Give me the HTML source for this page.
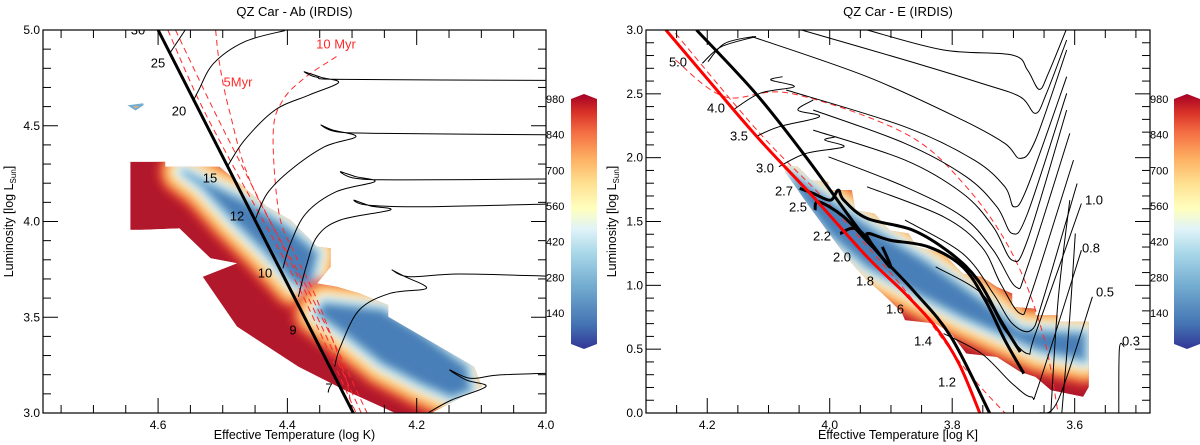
<!DOCTYPE html>
<html><head><meta charset="utf-8">
<style>
html,body{margin:0;padding:0;background:#fff;}
svg{display:block;font-family:"Liberation Sans","DejaVu Sans",sans-serif;}
</style></head>
<body>
<svg id="fig" width="1200" height="445" viewBox="0 0 1200 445" xmlns="http://www.w3.org/2000/svg">
<defs>
<linearGradient id="cbar" x1="0" y1="1" x2="0" y2="0">
<stop offset="0" stop-color="#313695"/><stop offset="0.1" stop-color="#4575b4"/><stop offset="0.25" stop-color="#74add1"/><stop offset="0.38" stop-color="#abd9e9"/><stop offset="0.47" stop-color="#e0f3f8"/><stop offset="0.55" stop-color="#ffffbf"/><stop offset="0.65" stop-color="#fee090"/><stop offset="0.75" stop-color="#fdae61"/><stop offset="0.85" stop-color="#f46d43"/><stop offset="0.93" stop-color="#d73027"/><stop offset="1" stop-color="#a50026"/>
</linearGradient>
<filter id="blur" x="-20%" y="-20%" width="140%" height="140%"><feGaussianBlur stdDeviation="4"/></filter>
<clipPath id="clipL"><rect x="43" y="30" width="503" height="383"/></clipPath>
<clipPath id="clipR"><rect x="646" y="30" width="504" height="383"/></clipPath>
</defs>
</svg>
<script>
// ---------- LEFT PANEL DATA (log T, log L) ----------
const leftZams = [[4.60,5.0],[4.298,3.0]];
const leftTracks = [
 [[4.582,4.878],[4.558,5.0]],
 [[4.546,4.626],[4.537,4.687],[4.514,4.826],[4.466,4.939],[4.404,4.997]],
 [[4.493,4.286],[4.466,4.426],[4.419,4.582],[4.366,4.661],[4.321,4.725],[4.348,4.753],[4.374,4.782],[4.354,4.753],[4.312,4.742],[4.001,4.737]],
 [[4.450,4.008],[4.431,4.147],[4.395,4.269],[4.342,4.391],[4.294,4.443],[4.330,4.478],[4.348,4.504],[4.324,4.469],[4.253,4.460],[4.001,4.453]],
 [[4.407,3.755],[4.395,3.886],[4.371,4.043],[4.324,4.156],[4.265,4.208],[4.294,4.234],[4.318,4.260],[4.294,4.225],[4.223,4.217],[4.001,4.222]],
 [[4.383,3.607],[4.371,3.764],[4.354,3.921],[4.318,4.008],[4.241,4.060],[4.271,4.081],[4.297,4.112],[4.277,4.086],[4.194,4.077],[4.001,4.091]],
 [[4.327,3.242],[4.318,3.346],[4.289,3.538],[4.241,3.625],[4.185,3.651],[4.218,3.712],[4.238,3.747],[4.212,3.712],[4.135,3.726],[4.001,3.715]],
 [[4.182,3.002],[4.146,3.068],[4.093,3.138],[4.123,3.172],[4.149,3.225],[4.117,3.181],[4.075,3.198],[4.001,3.207]]
];
const leftIsochrones = [
 [[4.585,5.0],[4.537,4.634],[4.478,4.252],[4.383,3.660],[4.294,3.002]],
 [[4.573,5.0],[4.514,4.582],[4.454,4.182],[4.371,3.625],[4.286,3.002]],
 [[4.511,5.0],[4.505,4.826],[4.490,4.582],[4.454,4.182],[4.360,3.590],[4.277,3.002]],
 [[4.324,4.861],[4.371,4.756],[4.407,4.634],[4.422,4.460],[4.413,4.043],[4.389,3.834],[4.354,3.590],[4.312,3.207],[4.300,3.002]]
];
const leftRegion = [[4.643,4.312],[4.589,4.312],[4.589,4.286],[4.505,4.286],[4.431,4.077],[4.395,4.008],[4.354,3.869],[4.333,3.860],[4.333,3.764],[4.354,3.677],[4.324,3.660],[4.289,3.625],[4.244,3.564],[4.244,3.503],[4.111,3.242],[4.099,3.138],[4.176,3.002],[4.235,3.002],[4.312,3.120],[4.383,3.242],[4.478,3.451],[4.531,3.712],[4.478,3.782],[4.519,3.808],[4.567,3.964],[4.626,3.956],[4.643,3.956]];
const leftCores = [
 [[4.561,4.260],[4.514,4.182],[4.460,4.095],[4.395,3.956],[4.354,3.834],[4.366,3.660],[4.389,3.677],[4.437,3.851],[4.484,4.008],[4.531,4.182]],
 [[4.342,3.573],[4.253,3.538],[4.194,3.416],[4.123,3.242],[4.117,3.120],[4.146,3.085],[4.194,3.155],[4.253,3.259],[4.312,3.416],[4.354,3.520]]
];
const leftSpot = [[4.643,4.603],[4.623,4.612],[4.635,4.586]];
// ---------- RIGHT PANEL DATA ----------
const rightZams = [[4.2675,3.0],[4.189,2.556],[4.114,2.138],[4.027,1.693],[3.939,1.223],[3.877,0.936],[3.827,0.674],[3.789,0.387],[3.755,0.0]];
const rightTams = [[4.2175,3.0],[4.121,2.504],[4.039,2.007],[3.939,1.354],[3.864,0.962],[3.802,0.596],[3.739,0.0]];
const rightTracks = [
 [[3.939,3.0],[3.814,2.843],[3.702,2.804],[3.677,2.686],[3.658,2.535],[3.643,2.660],[3.614,3.0]],
 [[4.046,3.0],[3.877,2.765],[3.752,2.582],[3.689,2.477],[3.664,2.347],[3.646,2.504],[3.613,2.922]],
 [[4.127,2.948],[3.939,2.634],[3.783,2.294],[3.714,2.112],[3.689,1.994],[3.664,2.138],[3.613,2.843]],
 [[4.071,2.530],[3.877,2.242],[3.764,1.981],[3.714,1.772],[3.699,1.615],[3.677,1.772],[3.613,2.634]],
 [[4.027,2.373],[3.877,2.112],[3.777,1.850],[3.727,1.615],[3.702,1.406],[3.677,1.563],[3.613,2.504]],
 [[4.027,2.216],[3.877,1.981],[3.783,1.720],[3.733,1.458],[3.702,1.197],[3.677,1.354],[3.613,2.373]],
 [[4.002,2.007],[3.877,1.772],[3.783,1.537],[3.733,1.276],[3.696,0.988],[3.677,1.145],[3.608,2.190]],
 [[3.939,1.772],[3.814,1.537],[3.752,1.302],[3.721,1.014],[3.689,0.779],[3.671,0.936],[3.602,1.981]],
 [[3.877,1.511],[3.783,1.249],[3.733,0.936],[3.702,0.701],[3.671,0.648],[3.652,0.883],[3.596,1.798]],
 [[3.827,1.145],[3.752,0.936],[3.714,0.648],[3.677,0.465],[3.664,0.622],[3.589,1.641]],
 [[3.814,0.622],[3.752,0.465],[3.702,0.230],[3.671,0.126],[3.658,0.230],[3.589,1.275]],
 [[3.658,0.0],[3.627,0.100],[3.571,0.910]],
 [[3.528,0.0],[3.527,0.505],[3.519,0.518]],
 [[3.639,0.0],[3.627,0.883],[3.608,1.667]],
 [[3.621,0.0],[3.608,0.753],[3.599,1.406]],
 [[4.208,2.739],[4.177,2.869],[4.121,2.948],[4.171,2.896],[4.199,2.752]],
 [[4.158,2.373],[4.114,2.504],[4.058,2.556],[4.096,2.608],[4.077,2.634]],
 [[4.121,2.164],[4.083,2.242],[4.017,2.321],[4.052,2.373],[4.027,2.451]],
 [[4.083,1.929],[4.039,2.033],[3.977,2.085],[4.008,2.138],[3.989,2.164]]
];
const rightThickTracks = [
 [[4.049,1.759],[4.027,1.720],[3.999,1.667],[3.986,1.746],[3.977,1.667],[3.939,1.524],[3.864,1.432],[3.802,1.249],[3.758,1.040],[3.721,0.727],[3.689,0.478]],
 [[4.024,1.589],[4.018,1.654],[3.977,1.537],[3.930,1.302],[3.939,1.406],[3.902,1.354],[3.839,1.302],[3.783,1.145],[3.746,0.883],[3.714,0.570],[3.683,0.309]],
 [[3.983,1.406],[3.952,1.432],[3.902,1.145],[3.914,1.302]]
];
const rightIsochrones = [
 [[4.252,2.765],[4.171,2.477],[4.064,2.504],[3.877,2.190],[3.777,1.772],[3.702,1.249],[3.652,0.622],[3.627,0.0]],
 [[4.252,2.974],[4.114,2.190],[4.002,1.641],[3.877,0.962],[3.777,0.335],[3.714,0.0]]
];
const rightRegion = [[4.077,1.942],[4.052,1.929],[4.030,1.824],[4.002,1.811],[4.002,1.746],[3.964,1.746],[3.958,1.589],[3.927,1.563],[3.902,1.432],[3.871,1.406],[3.858,1.302],[3.814,1.249],[3.783,1.092],[3.752,1.066],[3.727,0.988],[3.702,0.936],[3.702,0.831],[3.664,0.818],[3.664,0.766],[3.627,0.766],[3.627,0.714],[3.577,0.714],[3.577,0.204],[3.586,0.126],[3.639,0.178],[3.664,0.282],[3.689,0.322],[3.727,0.439],[3.777,0.465],[3.802,0.622],[3.827,0.701],[3.877,0.727],[3.883,0.792],[3.914,0.936],[3.939,1.040],[3.964,1.171],[3.989,1.328],[4.033,1.615],[4.071,1.876]];
const rightCores = [
 [[4.064,1.876],[4.002,1.667],[3.927,1.432],[3.846,1.197],[3.752,0.883],[3.689,0.648],[3.583,0.622],[3.583,0.413],[3.658,0.492],[3.721,0.622],[3.783,0.753],[3.858,0.936],[3.939,1.145],[4.002,1.406],[4.052,1.720]]
];
// tick labels
const leftXTicks = [4.6,4.4,4.2,4.0];
const leftYTicks = [3.0,3.5,4.0,4.5,5.0];
const rightXTicks = [4.2,4.0,3.8,3.6];
const rightYTicks = [0.0,0.5,1.0,1.5,2.0,2.5,3.0];
const cbarTicks = [980,840,700,560,420,280,140];

const NS = "http://www.w3.org/2000/svg";
const svg = document.getElementById('fig');
function mk(tag, attrs, parent){const e=document.createElementNS(NS,tag);for(const k in attrs)e.setAttribute(k,attrs[k]);(parent||svg).appendChild(e);return e;}
function smooth(P){
  if(P.length<3) return 'M'+P.map(p=>p[0].toFixed(1)+','+p[1].toFixed(1)).join(' L');
  let d='M'+P[0][0].toFixed(1)+','+P[0][1].toFixed(1);
  for(let i=0;i<P.length-1;i++){
    const p0=P[i-1]||P[i],p1=P[i],p2=P[i+1],p3=P[i+2]||P[i+1];
    const c1=[p1[0]+(p2[0]-p0[0])/6,p1[1]+(p2[1]-p0[1])/6],c2=[p2[0]-(p3[0]-p1[0])/6,p2[1]-(p3[1]-p1[1])/6];
    d+=' C'+c1[0].toFixed(1)+','+c1[1].toFixed(1)+' '+c2[0].toFixed(1)+','+c2[1].toFixed(1)+' '+p2[0].toFixed(1)+','+p2[1].toFixed(1);
  }
  return d;
}

function panel(cfg){
  const {x0,x1,y0,y1,tmin,tmax,lmin,lmax}=cfg;
  const sx=T=>x0+(tmax-T)/(tmax-tmin)*(x1-x0);
  const sy=L=>y0+(lmax-L)/(lmax-lmin)*(y1-y0);
  const pts=a=>a.map(p=>sx(p[0]).toFixed(1)+","+sy(p[1]).toFixed(1)).join(" ");
  const pxs=a=>a.map(p=>[sx(p[0]),sy(p[1])]);
  const g=mk('g',{'clip-path':'url(#'+cfg.clip+')'});
  
  
  const cpId=cfg.name+'-region-clip';
  const cp=mk('clipPath',{id:cpId},svg.querySelector('defs'));
  mk('polygon',{points:pts(cfg.region)},cp);
  const heat=mk('g',{'clip-path':'url(#'+cpId+')'},g);
  
  
  const base=mk('polygon',{points:pts(cfg.region),fill:'#b2182b'},heat);
  
  
  const bl=mk('g',{filter:'url(#blur)'},heat);
  cfg.cores.forEach(c=>{
    [['#e34a33',52],['#fdae61',38],['#fee090',27],['#e0f3f8',17],['#abd9e9',9]].forEach(([col,w])=>{
      const p=mk('polygon',{points:pts(c),fill:'none',stroke:col,'stroke-width':w,'stroke-linejoin':'round'},bl);
      
      
    });
    const f=mk('polygon',{points:pts(c),fill:'#4a7fb8',stroke:'#74add1','stroke-width':4},bl);
    
    
  });
  (cfg.spots||[]).forEach(s=>{const p=mk('polygon',{points:pts(s),fill:'#fdae61',stroke:'#74add1','stroke-width':2},g);
    
    });
  cfg.iso.forEach(a=>{const p=mk('path',{d:smooth(pxs(a)),fill:'none',stroke:'#ff2a2a','stroke-width':1,'stroke-dasharray':'6,4'},g);
    
    });
  cfg.tracks.forEach(a=>{const p=mk('path',{d:smooth(pxs(a)),fill:'none',stroke:'#000','stroke-width':1},g);
    
    });
  (cfg.thick||[]).forEach(a=>{const p=mk('path',{d:smooth(pxs(a)),fill:'none',stroke:'#000','stroke-width':3},g);
    
    });
  if(cfg.redZams){const p=mk('path',{d:smooth(pxs(cfg.redZams)),fill:'none',stroke:'#ff0000','stroke-width':3},g);
    
    }
  const z=mk('path',{d:smooth(pxs(cfg.zams)),fill:'none',stroke:'#000','stroke-width':3},g);
  
  
  cfg.labels.forEach(([t,x,y,c])=>{const e=mk('text',{x:x,y:y,'font-size':13,'text-anchor':'middle','dominant-baseline':'middle',fill:c||'#000'},g);e.textContent=t;
    
    });
  const fr=mk('rect',{x:x0,y:y0,width:x1-x0,height:y1-y0,fill:'none',stroke:'#000','stroke-width':1.2});
  
  
  const tk=mk('g',{stroke:'#000','stroke-width':1});
  
  
  for(let t=Math.ceil(tmin*20-1e-6);t<=tmax*20+1e-6;t++){const T=t/20,x=sx(T),maj=Math.abs(T*5-Math.round(T*5))<1e-6,len=maj?15:8;
    mk('line',{x1:x,y1:y1,x2:x,y2:y1-len},tk);mk('line',{x1:x,y1:y0,x2:x,y2:y0+len},tk);}
  for(let l=Math.round(lmin*10);l<=Math.round(lmax*10);l++){const L=l/10,y=sy(L),maj=l%5===0,len=maj?15:8;
    mk('line',{x1:x0,y1:y,x2:x0+len,y2:y},tk);mk('line',{x1:x1,y1:y,x2:x1-len,y2:y},tk);}
  cfg.xt.forEach(T=>{const e=mk('text',{x:sx(T),y:y1+16,'font-size':12,'text-anchor':'middle'});e.textContent=T.toFixed(1);
    
    });
  cfg.yt.forEach(L=>{const e=mk('text',{x:x0-3,y:sy(L)+4,'font-size':12,'text-anchor':'end'});e.textContent=L.toFixed(1);
    
    });
  const title=mk('text',{x:(x0+x1)/2,y:16,'font-size':13,'text-anchor':'middle'});title.textContent=cfg.title;
  
  
  const xl=mk('text',{x:(x0+x1)/2,y:439,'font-size':12.5,'text-anchor':'middle'});xl.textContent=cfg.xlabel;
  
  
  const yl=mk('text',{x:0,y:0,'font-size':12.5,'text-anchor':'middle',transform:'translate('+(x0-30)+','+((y0+y1)/2)+') rotate(-90)'});
  yl.innerHTML='Luminosity [log L<tspan font-size="8" dy="3">Sun</tspan><tspan dy="-3">]</tspan>';
  
  
  const cx=cfg.cbx,cw=26,ct=99,cb=344;
  const cbar=mk('polygon',{points:`${cx},${ct} ${cx+cw/2},${ct-5} ${cx+cw},${ct} ${cx+cw},${cb} ${cx+cw/2},${cb+5} ${cx},${cb}`,fill:'url(#cbar)'});
  
  
  cbarTicks.forEach(v=>{const y=ct+(980-v)/(980-140)*(313-99);
    const e=mk('text',{x:x1,y:y+4,'font-size':11,'text-anchor':'start'});e.textContent=v;
    
    });
}

panel({name:'left',clip:'clipL',x0:43,x1:546,y0:30,y1:413,tmin:4.0,tmax:4.778,lmin:3.0,lmax:5.0,
  region:leftRegion,cores:leftCores,spots:[leftSpot],iso:leftIsochrones,tracks:leftTracks,zams:leftZams,
  labels:[['30',138,31],['25',158,64],['20',179,112],['15',210,179],['12',237,217],['10',265,274],['9',293,331],['7',329,389],['5Myr',238,83,'#ff2a2a'],['10 Myr',336,45,'#ff2a2a']],
  xt:leftXTicks,yt:leftYTicks,title:'QZ Car - Ab (IRDIS)',xlabel:'Effective Temperature (log K)',cbx:571});
panel({name:'right',clip:'clipR',x0:646,x1:1150,y0:30,y1:413,tmin:3.477,tmax:4.30,lmin:0.0,lmax:3.0,
  region:rightRegion,cores:rightCores,iso:rightIsochrones,tracks:rightTracks,thick:rightThickTracks,zams:rightTams,redZams:rightZams,
  labels:[['5.0',678,63],['4.0',716,109],['3.5',739,137],['3.0',765,169],['2.7',784,192],['2.5',798,208],['2.2',822,237],['2.0',842,258],['1.8',865,282],['1.6',895,310],['1.4',923,342],['1.2',947,383],['1.0',1094,201],['0.8',1091,249],['0.5',1105,293],['0.3',1131,342]],
  xt:rightXTicks,yt:rightYTicks,title:'QZ Car - E (IRDIS)',xlabel:'Effective Temperature [log K]',cbx:1174});
</script>
</body></html>
